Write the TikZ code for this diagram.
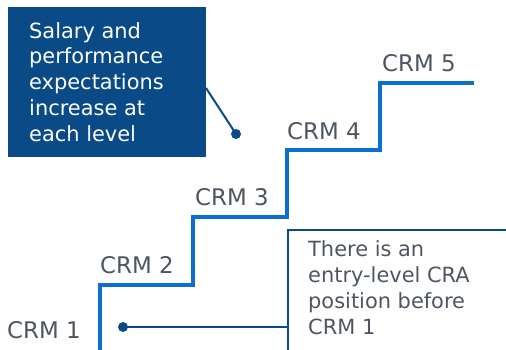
\documentclass[tikz,border=0pt]{standalone}
\usepackage{fontspec}
\setmainfont{DejaVu Sans}
\definecolor{boxblue}{HTML}{0A4A87}
\definecolor{stairblue}{HTML}{0A6FCD}
\definecolor{txtgrey}{HTML}{4D5660}
\tikzset{
  lbl/.style={anchor=base west, inner sep=0pt, text=txtgrey, font=\fontsize{23}{28}\selectfont},
  stair/.style={draw=stairblue, line width=4bp},
  conn/.style={draw=boxblue, line width=2bp},
  dotc/.style={circle, fill=boxblue, inner sep=0pt, minimum size=10bp},
}
\begin{document}
\begin{tikzpicture}[x=1bp,y=-1bp]
\useasboundingbox (0,0) rectangle (506,349);
% dark box
\node[fill=boxblue, minimum width=198bp, minimum height=150bp, inner sep=0pt, anchor=north west] (salbox) at (8,7) {};
\node[anchor=north west, inner sep=0pt, align=left, text=white, font=\fontsize{21}{25.9}\selectfont] (saltxt) at (29,22) {Salary and\\performance\\expectations\\increase at\\each level};
\node[dotc] (dot1) at (236,134) {};
\coordinate (c1) at (206,88);
\draw[conn] (c1) -- (dot1.center);
% stairs
\coordinate (s0) at (100,352);
\coordinate (s1) at (100,285);
\coordinate (s2) at (193,285);
\coordinate (s3) at (193,217);
\coordinate (s4) at (287,217);
\coordinate (s5) at (287,150);
\coordinate (s6) at (380,150);
\coordinate (s7) at (380,83);
\coordinate (s8) at (474,83);
\draw[stair] (s0) -- (s1) -- (s2) -- (s3) -- (s4) -- (s5) -- (s6) -- (s7) -- (s8);
% labels
\node[lbl] (crm1) at (7,338) {CRM 1};
\node[lbl] (crm2) at (100,273) {CRM 2};
\node[lbl] (crm3) at (195,205) {CRM 3};
\node[lbl] (crm4) at (287,139) {CRM 4};
\node[lbl] (crm5) at (382,71) {CRM 5};
% right box
\coordinate (rb0) at (288,352);
\coordinate (rb1) at (288,230);
\coordinate (rb2) at (508,230);
\draw[draw=boxblue, line width=2.5bp] (rb0) -- (rb1) -- (rb2);
\node[anchor=north west, inner sep=0pt, align=left, text=txtgrey, font=\fontsize{21}{26.3}\selectfont] (entrytxt) at (308,240) {There is an\\entry-level CRA\\position before\\CRM 1};
\node[dotc] (dot2) at (123,327) {};
\coordinate (c2) at (288,327);
\draw[conn] (dot2.center) -- (c2);
\end{tikzpicture}
\end{document}
